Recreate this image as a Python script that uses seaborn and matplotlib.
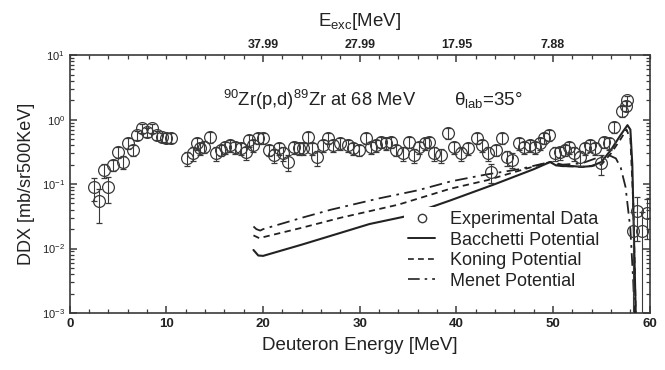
import numpy as np
import pandas as pd
import matplotlib
matplotlib.use("Agg")
import matplotlib.pyplot as plt
from matplotlib.lines import Line2D
from matplotlib.ticker import FixedLocator, LogLocator, NullFormatter, MultipleLocator
import seaborn as sns

# ---------------- data ----------------
e_exp = [2.5, 3.0, 3.5, 4.0, 4.5, 5.0, 5.5, 6.0, 6.5, 7.0, 7.5, 8.0, 8.5, 9.0, 9.5, 10.0, 10.5,
         12.1, 12.7, 13.2, 13.5, 13.9, 14.5, 15.1, 15.6, 16.1, 16.6, 17.1, 17.7, 18.2, 18.5, 19.0, 19.5,
         20.0, 20.6, 21.1, 21.6, 22.1, 22.6, 23.2, 23.7, 24.1, 24.6, 25.1, 25.6, 26.2, 26.7, 27.2,
         28.0, 28.8, 29.3, 29.9, 30.6, 31.2, 31.7, 32.2, 32.7, 33.2, 33.7, 34.5, 35.1, 35.6, 36.1,
         36.7, 37.2, 37.7, 38.4, 39.1, 39.8, 40.5, 41.2, 42.1, 42.6, 43.3, 43.6, 44.1, 44.7, 45.2,
         45.7, 46.5, 47.0, 47.6, 48.1, 48.6, 49.1, 49.6, 50.2, 50.7, 51.2, 51.7, 52.2, 52.8, 53.3,
         53.8, 54.3, 55.0, 55.3, 55.8, 56.3, 57.1, 57.5, 57.7,
         58.3, 58.7, 59.2, 59.7]
ddx_exp = [0.09, 0.055, 0.165, 0.09, 0.20, 0.31, 0.22, 0.43, 0.34, 0.575, 0.74, 0.64, 0.74, 0.575, 0.54, 0.52, 0.52,
           0.25, 0.30, 0.43, 0.36, 0.38, 0.54, 0.30, 0.34, 0.37, 0.40, 0.37, 0.36, 0.31, 0.48, 0.40, 0.52,
           0.52, 0.34, 0.28, 0.36, 0.30, 0.22, 0.37, 0.36, 0.36, 0.54, 0.36, 0.26, 0.40, 0.52, 0.40,
           0.43, 0.40, 0.36, 0.34, 0.52, 0.37, 0.40, 0.45, 0.43, 0.45, 0.34, 0.30, 0.45, 0.28, 0.37,
           0.43, 0.45, 0.30, 0.28, 0.62, 0.37, 0.30, 0.36, 0.52, 0.40, 0.30, 0.155, 0.34, 0.52, 0.26,
           0.24, 0.43, 0.37, 0.40, 0.37, 0.43, 0.52, 0.57, 0.30, 0.31, 0.34, 0.37, 0.30, 0.26, 0.36,
           0.40, 0.36, 0.21, 0.45, 0.43, 0.77, 1.35, 1.65, 2.0,
           0.019, 0.038, 0.019, 0.036]
err_exp = [0.035, 0.03, 0.04, 0.04, 0.04, 0.06, 0.05, 0.08, 0.07, 0.10, 0.12, 0.10, 0.12, 0.10, 0.09, 0.09, 0.09,
           0.06, 0.07, 0.09, 0.08, 0.08, 0.11, 0.07, 0.07, 0.08, 0.08, 0.08, 0.08, 0.07, 0.10, 0.08, 0.10,
           0.10, 0.07, 0.07, 0.08, 0.07, 0.06, 0.08, 0.08, 0.08, 0.11, 0.08, 0.07, 0.08, 0.10, 0.08,
           0.09, 0.08, 0.08, 0.07, 0.10, 0.08, 0.08, 0.09, 0.09, 0.09, 0.07, 0.07, 0.09, 0.07, 0.08,
           0.09, 0.09, 0.07, 0.07, 0.12, 0.08, 0.07, 0.08, 0.10, 0.08, 0.07, 0.05, 0.07, 0.10, 0.07,
           0.06, 0.09, 0.08, 0.08, 0.08, 0.09, 0.10, 0.11, 0.07, 0.07, 0.07, 0.08, 0.07, 0.07, 0.08,
           0.08, 0.08, 0.07, 0.09, 0.09, 0.14, 0.25, 0.30, 0.35,
           0.0185, 0.025, 0.0185, 0.022]

e_bac = [19.0, 19.5, 20.0, 24.0, 28.0, 31.0, 34.5, 39.4, 44.0, 48.0, 49.7, 50.3, 51.0, 52.0, 53.0,
         54.0, 55.0, 56.0, 57.0, 57.7, 58.0, 58.2, 58.4, 58.6]
ddx_bac = [0.0095, 0.0078, 0.0077, 0.0115, 0.0175, 0.024, 0.031, 0.056, 0.10, 0.17, 0.22, 0.195, 0.19,
           0.19, 0.185, 0.19, 0.22, 0.34, 0.58, 0.82, 0.70, 0.20, 0.01, 0.0005]

e_kon = [19.0, 19.6, 20.0, 24.0, 28.0, 34.0, 39.4, 43.2, 47.0, 49.7, 51.0, 53.0, 55.0, 56.0, 57.0,
         57.6, 58.0, 58.3, 58.6]
ddx_kon = [0.016, 0.0145, 0.015, 0.021, 0.030, 0.048, 0.085, 0.115, 0.17, 0.22, 0.19, 0.185, 0.20,
           0.30, 0.50, 0.70, 0.50, 0.05, 0.0005]

e_men = [19.0, 19.3, 19.7, 20.0, 24.0, 27.0, 32.0, 36.0, 39.4, 43.0, 46.5, 49.7, 51.0, 53.0, 55.0,
         55.8, 56.5, 57.0, 57.5, 58.0, 58.3, 58.5]
ddx_men = [0.022, 0.020, 0.019, 0.020, 0.030, 0.040, 0.060, 0.080, 0.11, 0.14, 0.17, 0.22, 0.20,
           0.21, 0.27, 0.28, 0.25, 0.18, 0.09, 0.02, 0.003, 0.0005]

top_tick_pos = [20, 30, 40, 50]
top_tick_lab = ["37.99", "27.99", "17.95", "7.88"]

# ---------------- style ----------------
sns.set_theme(style="ticks")
plt.rcParams['font.family'] = ['Liberation Sans', 'DejaVu Sans']
plt.rcParams['mathtext.fontset'] = 'custom'
plt.rcParams['mathtext.rm'] = 'Liberation Sans'
plt.rcParams['mathtext.it'] = 'Liberation Sans:italic'
plt.rcParams['mathtext.sf'] = 'Liberation Sans'

ink = "#3a3a3a"
txt = "#222222"
narrow = ['Liberation Sans Narrow', 'Liberation Sans']
fig = plt.figure(figsize=(6.65, 3.70), dpi=100)
ax = fig.add_axes([0.105, 0.154, 0.872, 0.697])

ax.set_yscale("log")
ax.set_xlim(0, 60)
ax.set_ylim(1e-3, 10)

# theory curves
df_b = pd.DataFrame({"E": e_bac, "DDX": ddx_bac})
df_k = pd.DataFrame({"E": e_kon, "DDX": ddx_kon})
df_m = pd.DataFrame({"E": e_men, "DDX": ddx_men})
sns.lineplot(data=df_b, x="E", y="DDX", ax=ax, color=txt, lw=1.5, sort=False, zorder=3)
sns.lineplot(data=df_k, x="E", y="DDX", ax=ax, color=txt, lw=1.3, sort=False,
             linestyle=(0, (3.5, 2.5)), zorder=3)
sns.lineplot(data=df_m, x="E", y="DDX", ax=ax, color=txt, lw=1.3, sort=False,
             linestyle=(0, (7, 3, 1.5, 3)), zorder=3)

# experimental data
ax.errorbar(e_exp, ddx_exp, yerr=err_exp, fmt="o", mfc="none", mec=ink, mew=0.9, ms=8.5,
            ecolor=ink, elinewidth=0.8, capsize=2.5, capthick=0.8, zorder=4)

# axes formatting
ax.xaxis.set_major_locator(MultipleLocator(10))
ax.xaxis.set_minor_locator(MultipleLocator(2))
ax.yaxis.set_major_locator(LogLocator(base=10, numticks=10))
ax.yaxis.set_minor_locator(LogLocator(base=10, subs=np.arange(2, 10), numticks=20))
ax.yaxis.set_minor_formatter(NullFormatter())
ax.tick_params(which="both", direction="in", top=False, right=True, colors=ink, labelcolor=txt)
ax.tick_params(which="major", length=5, width=1.1, labelsize=9.5)
ax.tick_params(which="minor", length=3, width=0.9)
ax.tick_params(axis="y", which="major", labelsize=8)
for lab in ax.get_xticklabels():
    lab.set_fontfamily(narrow)
    lab.set_fontweight('bold')
for sp in ax.spines.values():
    sp.set_color(ink)
    sp.set_linewidth(1.2)

ax.set_xlabel("Deuteron Energy [MeV]", fontsize=13.5, color=txt, labelpad=5)
ax.set_ylabel("DDX [mb/sr500KeV]", fontsize=13, color=txt, labelpad=5)

# top axis
ax2 = ax.twiny()
ax2.set_xlim(ax.get_xlim())
ax2.xaxis.set_major_locator(FixedLocator(top_tick_pos))
ax2.set_xticklabels(top_tick_lab, fontsize=9, fontweight='bold', family=narrow, color=txt)
ax2.xaxis.set_minor_locator(MultipleLocator(2))
ax2.tick_params(which="both", direction="in", colors=ink, labelcolor=txt, pad=3)
ax2.tick_params(which="major", length=5, width=1.1)
ax2.tick_params(which="minor", length=3, width=0.9)
for sp in ax2.spines.values():
    sp.set_visible(False)
ax2.set_xlabel(r"E$_{\rm exc}$[MeV]", fontsize=13.5, color=txt, labelpad=9)

# annotations
ax.text(0.265, 0.825, r"$^{90}$Zr(p,d)$^{89}$Zr at 68 MeV", transform=ax.transAxes,
        fontsize=13.2, color=txt, va="center", ha="left")
ax.text(0.662, 0.825, r"θ$_{\rm lab}$=35°", transform=ax.transAxes,
        fontsize=13.5, color=txt, va="center", ha="left")

# legend
handles = [
    Line2D([], [], ls="none", marker="o", mfc="none", mec=ink, ms=6, mew=1),
    Line2D([], [], color=txt, lw=1.4),
    Line2D([], [], color=txt, lw=1.2, ls=(0, (3.5, 2.5))),
    Line2D([], [], color=txt, lw=1.2, ls=(0, (7, 3, 1.5, 3))),
]
labels = ["Experimental Data", "Bacchetti Potential", "Koning Potential", "Menet Potential"]
leg = ax.legend(handles, labels, loc="upper left", bbox_to_anchor=(0.577, 0.41),
                frameon=True, facecolor="white", edgecolor="none", framealpha=1.0,
                fontsize=13, handlelength=1.5, handletextpad=0.85, labelspacing=0.2,
                borderpad=0.2, borderaxespad=0.0)
leg.set_zorder(5)
for t in leg.get_texts():
    t.set_color(txt)

fig.savefig("out.png", dpi=100)
